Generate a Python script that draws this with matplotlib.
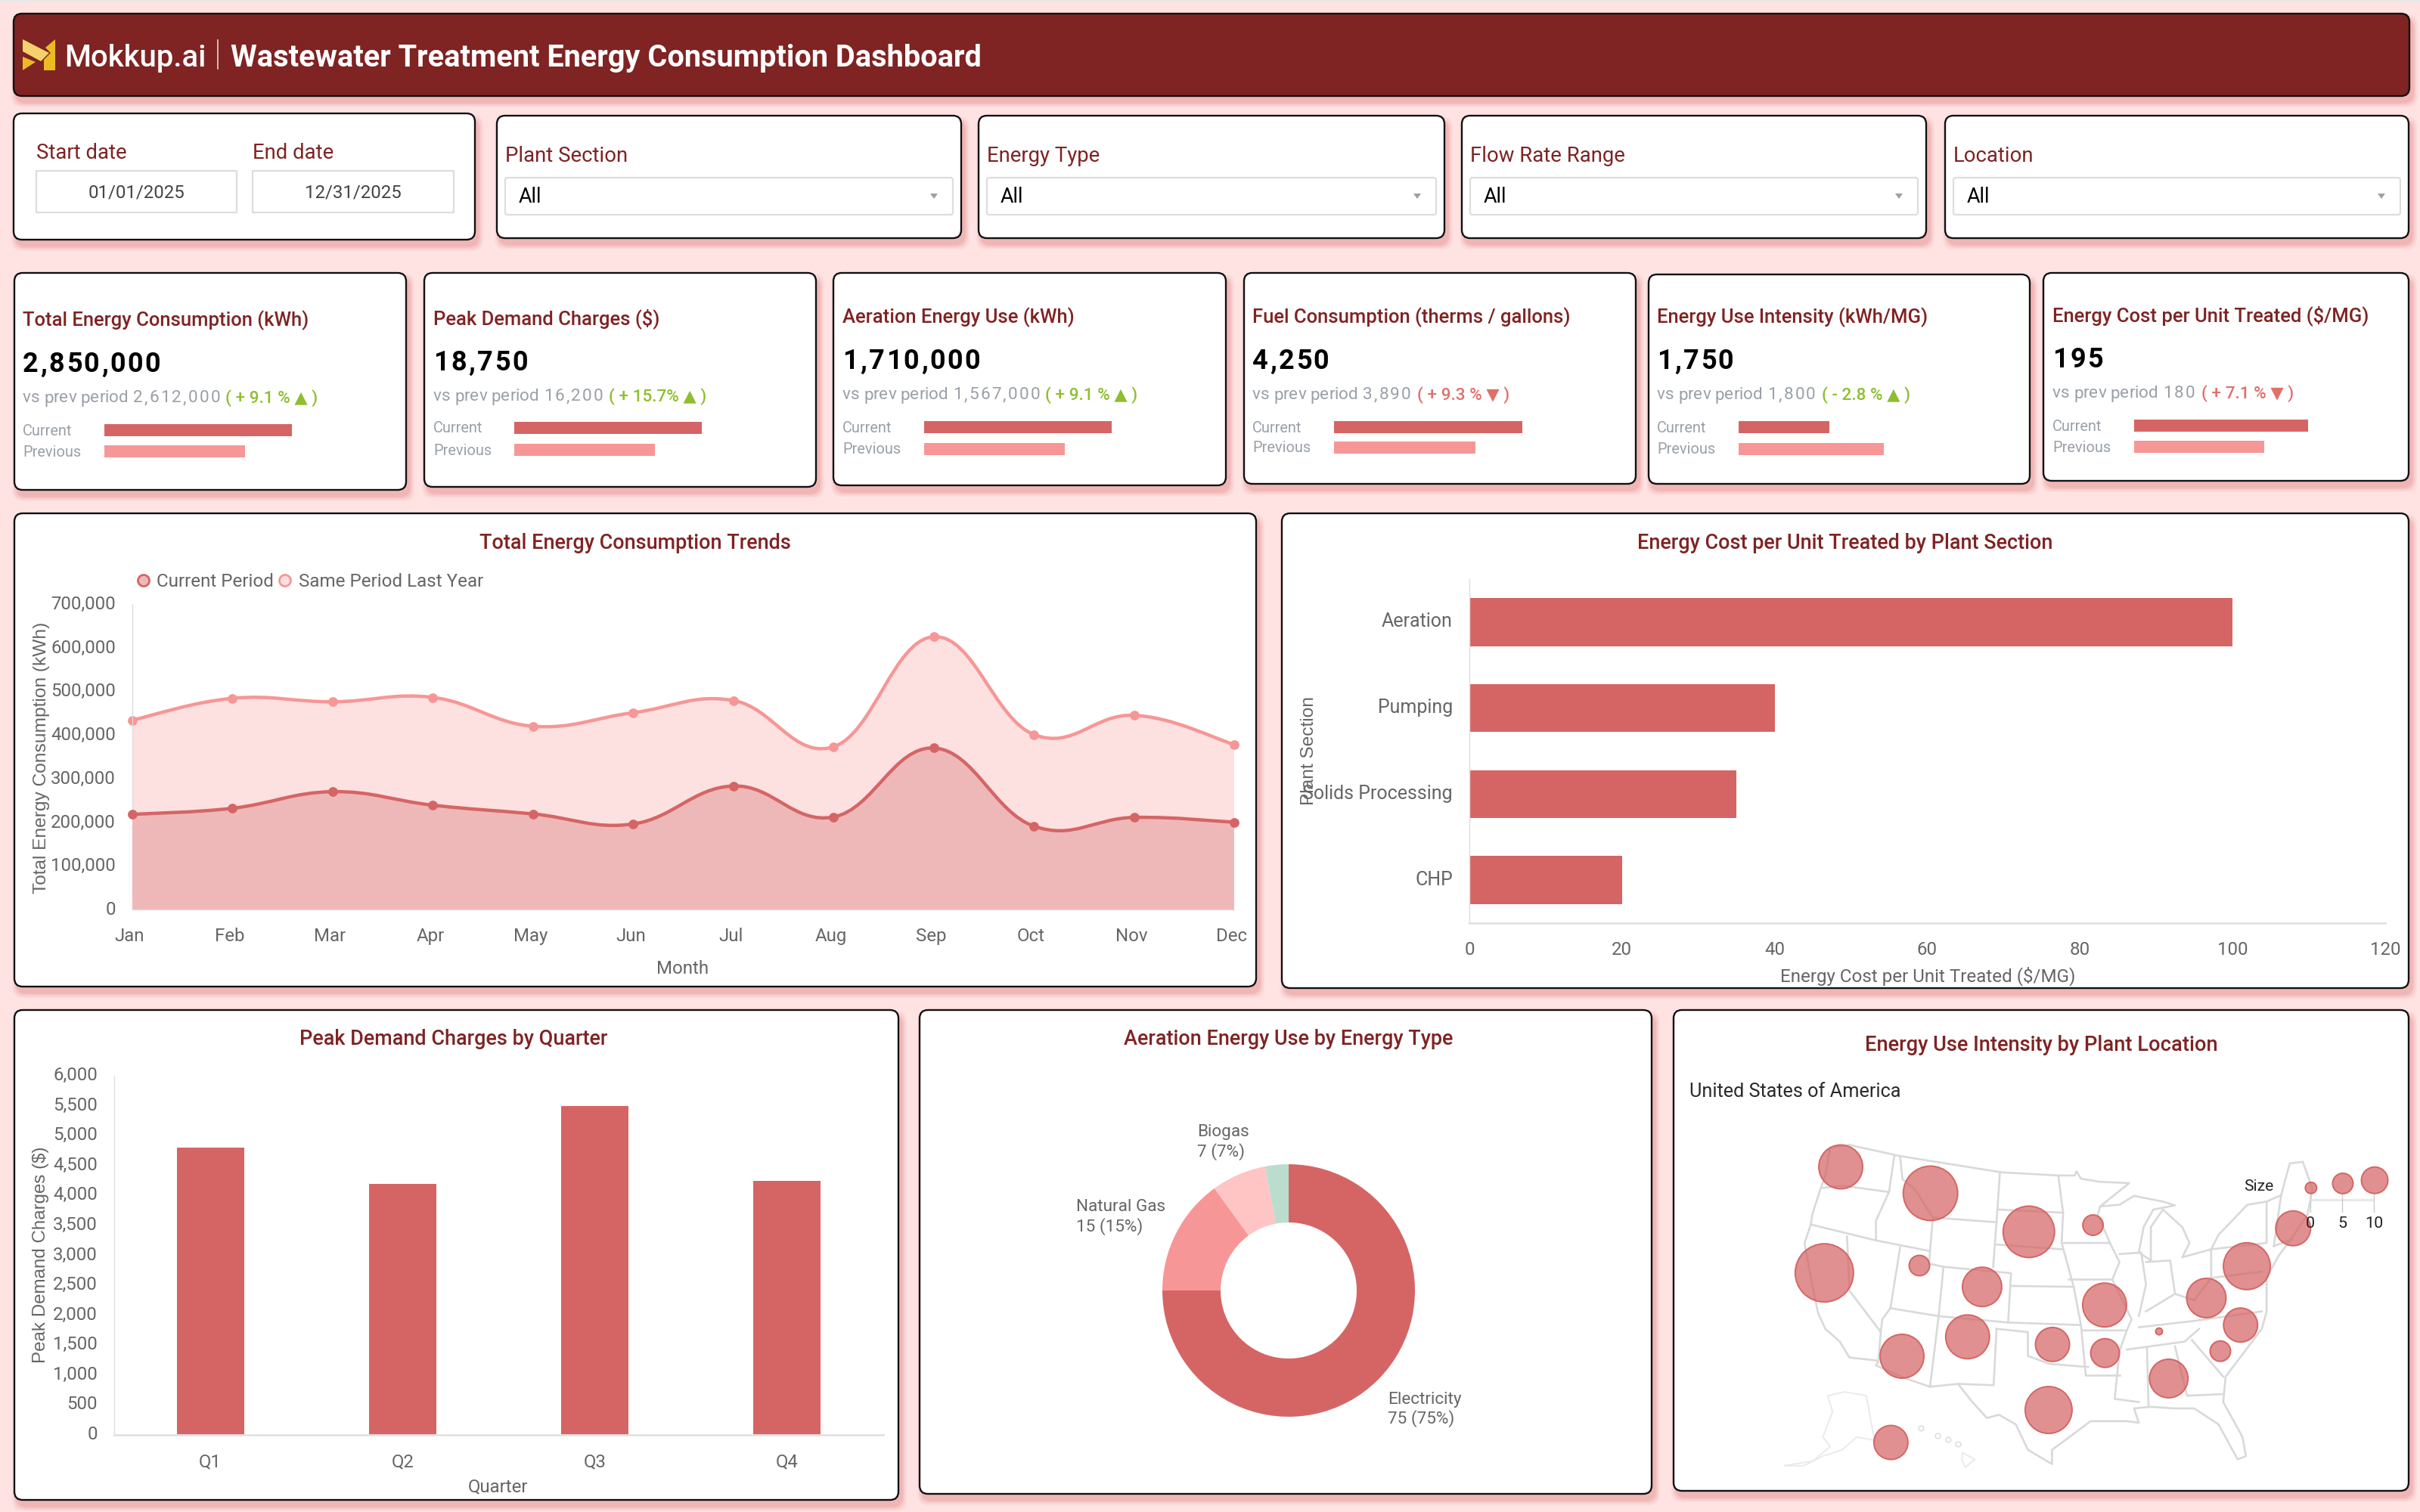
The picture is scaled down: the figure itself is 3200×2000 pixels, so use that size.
import matplotlib
matplotlib.use("Agg")
import matplotlib.pyplot as plt
import numpy as np
from matplotlib.patches import FancyBboxPatch, PathPatch, Polygon, Rectangle
from matplotlib.path import Path
from matplotlib.textpath import TextToPath
from matplotlib.font_manager import FontProperties
from matplotlib.transforms import ScaledTranslation

plt.rcParams['font.family'] = ['Roboto', 'DejaVu Sans']

W, H = 3200, 2000

# colours
BG = '#FFE3E3'
DARK_RED = '#7F2323'
BAR = '#D56565'
BAR_LIGHT = '#F79696'
GREY_TEXT = '#666666'
KPI_GREY = '#9AA0A8'
GREEN = '#8DBF2E'
RED = '#E0706A'

# filters
filter_labels = ['Plant Section', 'Energy Type', 'Flow Rate Range', 'Location']
start_date = '01/01/2025'
end_date = '12/31/2025'

# kpi cards
kpi_titles = ['Total Energy Consumption (kWh)', 'Peak Demand Charges ($)', 'Aeration Energy Use (kWh)',
              'Fuel Consumption (therms / gallons)', 'Energy Use Intensity (kWh/MG)',
              'Energy Cost per Unit Treated ($/MG)']
kpi_current = [2850000, 18750, 1710000, 4250, 1750, 195]
kpi_previous = [2612000, 16200, 1567000, 3890, 1800, 180]
kpi_delta = ['( + 9.1 % ▲ )', '( + 15.7% ▲ )', '( + 9.1 % ▲ )', '( + 9.3 % ▼ )', '( - 2.8 % ▲ )', '( + 7.1 % ▼ )']
kpi_good = [True, True, True, False, True, False]
# the small bars start from a raised baseline
kpi_axis_min = [1898000, 8550, 1138000, 2810, 1667, 135.5]

# trend chart
months = ['Jan', 'Feb', 'Mar', 'Apr', 'May', 'Jun', 'Jul', 'Aug', 'Sep', 'Oct', 'Nov', 'Dec']
current_period = [218000, 232000, 270000, 239000, 219000, 196000, 283000, 212000, 370000, 191000, 211000, 200000]
last_year = [434000, 484000, 476000, 486000, 420000, 451000, 479000, 373000, 625000, 401000, 445000, 378000]

# cost by section
sections = ['Aeration', 'Pumping', 'Solids Processing', 'CHP']
section_cost = [100, 40, 35, 20]

# peak demand by quarter
quarters = ['Q1', 'Q2', 'Q3', 'Q4']
quarter_charges = [4800, 4200, 5500, 4250]

# aeration energy mix
energy_types = ['Electricity', 'Natural Gas', 'Biogas', 'Other']
energy_values = [75, 15, 7, 3]
energy_colors = [BAR, BAR_LIGHT, '#FFC4C4', '#BBDDCE']

# plant bubbles, in map coordinates, with radius in pixels
plant_x = [367, 553, 333, 757, 890, 530, 660, 914, 1125, 1209, 1305, 1196, 494, 630, 806, 915, 1027, 1154, 1047, 798, 471]
plant_y = [531, 614, 864, 735, 714, 841, 908, 965, 943, 843, 724, 1028, 1126, 1065, 1089, 1116, 1048, 1110, 1196, 1295, 1397]
plant_radius = [29, 36, 38.5, 34, 13.5, 13.5, 26, 29, 26, 31, 23, 22.5, 29, 29, 22.5, 19, 4.5, 13.5, 25.5, 31, 22.5]
size_legend_values = ['0', '5', '10']
size_legend_x = [1342, 1408, 1474]
size_legend_y = [597, 583, 573]
size_legend_radius = [7.5, 13.5, 17.5]

# state borders, simplified, in map coordinates
map_lines = [
    # outer boundary of the lower 48
    [(385, 462), (490, 497), (700, 548), (818, 558), (852, 558), (856, 545), (865, 568), (905, 578), (965, 582),
     (905, 655), (945, 650), (975, 622), (1035, 640), (1060, 652), (1015, 665), (995, 720), (985, 800), (1010, 825),
     (1010, 720), (1035, 665), (1075, 720), (1090, 770), (1075, 815), (1135, 790), (1150, 745), (1210, 650),
     (1250, 640), (1280, 620), (1298, 520), (1325, 515), (1345, 600), (1335, 680), (1300, 760), (1275, 810),
     (1250, 880), (1250, 985), (1240, 1040), (1200, 1120), (1165, 1190), (1160, 1270), (1200, 1380), (1207, 1440),
     (1190, 1450), (1150, 1340), (1100, 1290), (1060, 1290), (1010, 1285), (975, 1290), (985, 1335), (960, 1330),
     (885, 1330), (850, 1370), (805, 1420), (805, 1465), (755, 1420), (730, 1340), (695, 1310), (670, 1320),
     (640, 1270), (610, 1213), (552, 1222), (500, 1195), (440, 1155), (445, 1140), (385, 1130), (365, 1080),
     (335, 1040), (320, 990), (305, 880), (292, 770), (305, 712), (308, 680), (325, 600), (335, 560), (345, 470), (385, 462)],
    [(330, 597), (370, 590), (467, 610)],
    [(305, 712), (440, 762), (550, 795)],
    [(478, 497), (467, 610), (440, 700), (440, 762)],
    [(490, 497), (495, 570), (520, 600), (558, 690), (550, 835)],
    [(558, 690), (690, 705)],
    [(697, 548), (690, 705), (683, 845)],
    [(695, 665), (828, 675)],
    [(818, 558), (828, 675), (825, 770), (850, 908), (865, 1028), (875, 1185)],
    [(690, 775), (825, 790)],
    [(580, 845), (720, 865), (714, 1020)],
    [(720, 905), (850, 908)],
    [(570, 1000), (714, 1020), (865, 1028)],
    [(490, 785), (470, 975), (570, 1000), (580, 845), (550, 835)],
    [(380, 750), (385, 920), (450, 1050), (445, 1140)],
    [(470, 975), (453, 1010), (450, 1050)],
    [(570, 1000), (552, 1222)],
    [(690, 1040), (684, 1217), (610, 1213)],
    [(690, 1040), (755, 1050), (755, 1125), (800, 1150), (880, 1160)],
    [(840, 885), (930, 885), (970, 1010), (960, 1045), (870, 1045)],
    [(830, 770), (925, 770), (945, 830), (930, 885)],
    [(925, 770), (900, 680), (905, 655)],
    [(945, 805), (990, 800), (1000, 900), (985, 1000)],
    [(1000, 830), (1050, 825), (1060, 930), (1000, 985)],
    [(1135, 790), (1135, 880), (1100, 950), (1060, 930)],
    [(985, 1035), (1100, 1015), (1240, 985)],
    [(960, 1105), (1080, 1080), (1110, 1040)],
    [(960, 1045), (945, 1110), (935, 1260), (985, 1270)],
    [(1002, 1100), (1005, 1280)],
    [(1060, 1095), (1085, 1250), (1160, 1245)],
    [(1095, 1075), (1160, 1190)],
    [(875, 1185), (945, 1185)],
    [(1135, 790), (1250, 770), (1250, 640)],
    [(1135, 880), (1240, 860)],
    [(1265, 780), (1280, 620)],
    [(1300, 760), (1265, 780)],
]
alaska_line = [(340, 1250), (375, 1238), (420, 1250), (437, 1390), (400, 1380), (370, 1420), (330, 1440), (290, 1470),
               (250, 1470), (310, 1455), (345, 1410), (330, 1380), (350, 1300), (340, 1250)]
hawaii_line = [(620, 1430), (645, 1450), (625, 1475), (618, 1450), (620, 1430)]
hawaii_small = [(533, 1352), (568, 1375), (590, 1388), (610, 1402)]


def px(size):
    # font size in points from a height in pixels
    return size * 0.36


def place_axes(x0, y0, x1, y1):
    ax = fig.add_axes([x0 / W, 1 - y1 / H, (x1 - x0) / W, (y1 - y0) / H])
    ax.patch.set_alpha(0)
    return ax


def card(x0, y0, x1, y1, face='white'):
    # soft pink shadow under the card
    for grow, alpha in zip([14, 10, 6, 3], [0.10, 0.14, 0.18, 0.22]):
        canvas.add_patch(FancyBboxPatch((x0 + 4 - grow / 2, y0 + 8 - grow / 2), x1 - x0 + grow, y1 - y0 + grow,
                                        boxstyle='round,pad=0,rounding_size=14', fc='#E58C8C', ec='none',
                                        alpha=alpha, zorder=1))
    canvas.add_patch(FancyBboxPatch((x0, y0), x1 - x0, y1 - y0, boxstyle='round,pad=0,rounding_size=11',
                                    fc=face, ec='#111111', lw=0.85, zorder=2))


def label(x, y, s, size=24, color=GREY_TEXT, ha='left', weight='normal', **kw):
    canvas.text(x, y + 2, s, fontsize=px(size), color=color, ha=ha, va='center', fontweight=weight, zorder=5, **kw)


def spaced_label(x, y, s, size, color, weight, gap):
    # letter spaced text, one glyph at a time
    fp = FontProperties(family='Roboto', weight=weight, size=px(size))
    t2p = TextToPath()
    for ch in s:
        label(x, y, ch, size=size, color=color, weight=weight)
        w, _, _ = t2p.get_text_width_height_descent(ch, fp, False)
        x += w * 200 / 72 + gap


def smooth_path(xs, ys, t=0.2):
    # cardinal spline through the points as cubic bezier segments
    n = len(xs)
    verts = [(xs[0], ys[0])]
    codes = [Path.MOVETO]
    for i in range(n - 1):
        a = max(i - 1, 0)
        b = min(i + 2, n - 1)
        c1 = (xs[i] + (xs[i + 1] - xs[a]) * t, ys[i] + (ys[i + 1] - ys[a]) * t)
        c2 = (xs[i + 1] - (xs[b] - xs[i]) * t, ys[i + 1] - (ys[b] - ys[i]) * t)
        verts += [c1, c2, (xs[i + 1], ys[i + 1])]
        codes += [Path.CURVE4] * 3
    return verts, codes


def style_axes(ax):
    for s in ['top', 'right']:
        ax.spines[s].set_visible(False)
    ax.tick_params(length=0, labelsize=px(24), labelcolor=GREY_TEXT)


def nudge(tick_labels, dx, dy):
    # shift tick labels by a few pixels (dy upwards)
    for t in tick_labels:
        t.set_transform(t.get_transform() + ScaledTranslation(dx / 200, dy / 200, fig.dpi_scale_trans))


fig = plt.figure(figsize=(W / 200, H / 200), dpi=200, facecolor=BG)
canvas = fig.add_axes([0, 0, 1, 1])
canvas.set_xlim(0, W)
canvas.set_ylim(H, 0)
canvas.axis('off')
canvas.add_patch(Rectangle((0, 0), W, 3, fc='#E8E8E8', ec='none'))

# header
card(18, 18, 3186, 127, face=DARK_RED)
canvas.add_patch(Polygon([(30, 52), (65, 70), (54, 81), (30, 68)], fc='#F3D36B', ec='none', zorder=4))
canvas.add_patch(Polygon([(30, 75), (47, 82), (30, 93)], fc='#EBBB22', ec='none', zorder=4))
canvas.add_patch(Polygon([(73, 52), (73, 93), (58, 93), (58, 79), (67, 70), (60, 63)], fc='#EBBB22', ec='none', zorder=4))
label(85, 75, 'Mokkup.ai', size=40, color='white', weight='medium')
canvas.plot([288, 288], [53, 91], color='#E8D0D0', lw=0.6, zorder=5)
label(305, 75, 'Wastewater Treatment Energy Consumption Dashboard', size=39.8, color='white', weight='bold')

# date filter
card(18, 150, 628, 317)
for x0, x1, head, val in [(48, 313, 'Start date', start_date), (334, 600, 'End date', end_date)]:
    label(x0, 201, head, size=27.5, color=DARK_RED)
    canvas.add_patch(Rectangle((x0, 226), x1 - x0, 55, fc='white', ec='#DDDDDD', lw=0.8, zorder=4))
    label((x0 + x1) / 2, 253, val, size=24, color='#444444', ha='center')

# dropdown filters
filter_x = [(657, 1271), (1294, 1910), (1933, 2547), (2572, 3185)]
for (x0, x1), name in zip(filter_x, filter_labels):
    card(x0, 153, x1, 315)
    label(x0 + 11, 205, name, size=27.5, color=DARK_RED)
    canvas.add_patch(FancyBboxPatch((x0 + 11, 235), x1 - x0 - 22, 49, boxstyle='round,pad=0,rounding_size=3',
                                    fc='white', ec='#DDDDDD', lw=0.8, zorder=4))
    label(x0 + 29, 258, 'All', size=27, color='black')
    canvas.add_patch(Polygon([(x1 - 41, 256), (x1 - 31, 256), (x1 - 36, 263)], fc='#9AA0A8', ec='none', zorder=5))

# kpi cards
card_box = [(19, 361, 537, 648), (561, 361, 1079, 644), (1102, 361, 1621, 642),
            (1645, 361, 2163, 640), (2180, 363, 2684, 640), (2702, 361, 3185, 636)]
text_x = [30, 573, 1114, 1656, 2191, 2714]
title_y = [422, 420, 418, 418, 418, 416]
bar_left = [138, 680, 1222, 1764, 2299, 2822]
bar_width = [248, 248, 248, 249, 192, 230]
bar_top = [561, 558, 557, 557, 557, 555]
prev_top = [589, 587, 586, 584, 586, 583]
delta_x = [298, 805, 1382, 1874, 2409, 2911]

for i, box in enumerate(card_box):
    card(*box)
    x = text_x[i]
    label(x, title_y[i], kpi_titles[i], size=25.6, color=DARK_RED, weight='medium')
    spaced_label(x, title_y[i] + 58, f'{kpi_current[i]:,}', 36, 'black', 'bold', 2.5)
    spaced_label(x, title_y[i] + 103, 'vs prev period', 22.5, KPI_GREY, 'normal', 0)
    spaced_label(x + 146, title_y[i] + 103, f'{kpi_previous[i]:,}', 22.5, KPI_GREY, 'normal', 2.2)
    label(delta_x[i], title_y[i] + 103, kpi_delta[i], size=22.5, color=GREEN if kpi_good[i] else RED, weight='medium')
    label(x, bar_top[i] + 7, 'Current', size=20, color=KPI_GREY)
    label(x, prev_top[i] + 7, 'Previous', size=20, color=KPI_GREY)
    top = max(kpi_current[i], kpi_previous[i])
    # current and previous bars share one small axis per card
    bx = place_axes(bar_left[i], bar_top[i], bar_left[i] + bar_width[i], prev_top[i] + 16)
    bx.set_xlim(kpi_axis_min[i], top)
    bx.set_ylim(prev_top[i] + 16 - bar_top[i], 0)
    bx.barh([8, prev_top[i] + 8 - bar_top[i]], [kpi_current[i] - kpi_axis_min[i], kpi_previous[i] - kpi_axis_min[i]],
            left=kpi_axis_min[i], height=16, color=[BAR, BAR_LIGHT])
    bx.axis('off')

# trend chart
card(19, 679, 1661, 1305)
label(840, 716, 'Total Energy Consumption Trends', size=27, color=DARK_RED, ha='center', weight='medium')
canvas.scatter([190, 377], [768, 768], s=[(px(15)) ** 2] * 2, fc=['#EFB8B8', '#FDE0E0'], ec=[BAR, BAR_LIGHT], lw=1.0, zorder=5)
label(207, 767, 'Current Period', size=24.2)
label(395, 767, 'Same Period Last Year', size=24.2)
label(55, 1000, 'Total Energy Consumption (kWh)', size=24.5, rotation=90, ha='center', family='Liberation Sans')
label(903, 1279, 'Month', size=24, ha='center')

ax = place_axes(175, 799, 1632, 1203)
x_pos = np.arange(len(months))
for series, line_c, fill_c, z in [(last_year, BAR_LIGHT, '#FDE0E0', 2), (current_period, BAR, '#EFB8B8', 3)]:
    verts, codes = smooth_path(x_pos, series)
    ax.add_patch(PathPatch(Path(verts + [(11, 0), (0, 0), verts[0]], codes + [Path.LINETO, Path.LINETO, Path.CLOSEPOLY]),
                           fc=fill_c, ec='none', zorder=z))
    ax.add_patch(PathPatch(Path(verts, codes), fc='none', ec=line_c, lw=1.6, zorder=z + 0.2))
    ax.plot(x_pos, series, 'o', color=line_c, ms=4.6, mew=0, zorder=z + 0.4, clip_on=False)
ax.set_xlim(0, 11)
ax.set_ylim(0, 700000)
ax.set_xticks(x_pos, months)
ax.set_yticks(np.arange(0, 700001, 100000))
ax.yaxis.set_major_formatter(lambda v, p: f'{int(v):,}')
style_axes(ax)
ax.tick_params(axis='x', pad=8.6)
ax.tick_params(axis='y', pad=8)
nudge(ax.get_xticklabels(), -3.5, 0)
nudge(ax.get_yticklabels(), 0, 2)
ax.spines['left'].set_color('#DDDDDD')
ax.spines['bottom'].set_color('#DDDDDD')
ax.spines['left'].set_linewidth(0.5)
ax.spines['bottom'].set_linewidth(0.5)

# cost by plant section
card(1695, 679, 3185, 1307)
label(2440, 716, 'Energy Cost per Unit Treated by Plant Section', size=27, color=DARK_RED, ha='center', weight='medium')
label(2549, 1289, 'Energy Cost per Unit Treated ($/MG)', size=24.2, ha='center')
label(1731, 991, 'Plant Section', size=24.5, rotation=90, ha='center', family='Liberation Sans')
ax = place_axes(1943, 766, 3154, 1221)
ax.barh(np.arange(len(sections)), section_cost, height=0.56, color=BAR)
ax.set_xlim(0, 120)
ax.set_ylim(3.5, -0.5)
ax.set_yticks(np.arange(len(sections)), sections)
ax.set_xticks(np.arange(0, 121, 20))
style_axes(ax)
ax.tick_params(axis='y', labelsize=px(25))
ax.tick_params(axis='x', pad=8.6)
ax.tick_params(axis='y', pad=8)
nudge(ax.get_yticklabels(), 0, 3)
ax.spines['left'].set_color('#DDDDDD')
ax.spines['left'].set_linewidth(0.5)
ax.spines['bottom'].set_color('#E2E2E2')
ax.spines['bottom'].set_linewidth(1.0)

# peak demand by quarter
card(19, 1336, 1188, 1984)
label(600, 1373, 'Peak Demand Charges by Quarter', size=27, color=DARK_RED, ha='center', weight='medium')
label(659, 1965, 'Quarter', size=24, ha='center')
label(54, 1658, 'Peak Demand Charges ($)', size=24.2, rotation=90, ha='center', family='Liberation Sans')
ax = place_axes(151, 1423, 1168, 1898)
ax.bar(np.arange(len(quarters)), quarter_charges, width=0.35, color=BAR)
ax.set_xlim(-0.5, 3.5)
ax.set_ylim(0, 6000)
ax.set_xticks(np.arange(len(quarters)), quarters)
ax.set_yticks(np.arange(0, 6001, 500))
ax.yaxis.set_major_formatter(lambda v, p: f'{int(v):,}')
style_axes(ax)
ax.tick_params(axis='x', pad=8.6)
ax.tick_params(axis='y', pad=8)
nudge(ax.get_yticklabels(), 0, 3)
ax.spines['left'].set_color('#DDDDDD')
ax.spines['left'].set_linewidth(0.5)
ax.spines['bottom'].set_color('#E2E2E2')
ax.spines['bottom'].set_linewidth(1.0)

# energy type donut
card(1216, 1336, 2184, 1976)
label(1704, 1373, 'Aeration Energy Use by Energy Type', size=27, color=DARK_RED, ha='center', weight='medium')
ax = place_axes(1704 - 167, 1707 - 167, 1704 + 167, 1707 + 167)
ax.pie(energy_values, colors=energy_colors, startangle=90, counterclock=False, radius=1.0,
       wedgeprops=dict(width=1 - 90 / 167))
ax.set_xlim(-1, 1)
ax.set_ylim(-1, 1)
donut_label_x = [1835, 1423, 1583]
donut_label_y = [1849, 1595, 1496]
for i in range(3):
    label(donut_label_x[i], donut_label_y[i], energy_types[i], size=22.5)
    label(donut_label_x[i], donut_label_y[i] + 26, f'{energy_values[i]} ({energy_values[i]}%)', size=22.5)

# bubble map
card(2213, 1336, 3185, 1972)
label(2699, 1380, 'Energy Use Intensity by Plant Location', size=27.3, color=DARK_RED, ha='center', weight='medium')
label(2234, 1442, 'United States of America', size=25.3, color='#2A2A2A')
ax = place_axes(2200, 1320, 3200, 1980)
ax.set_xlim(0, 1568)
ax.set_ylim(1568, 0)
ax.axis('off')
for line in map_lines:
    lx, ly = zip(*line)
    ax.plot(lx, ly, color='#D9D9D9', lw=0.95, zorder=1)
for line, a in [(alaska_line, 0.55), (hawaii_line, 0.55)]:
    lx, ly = zip(*line)
    ax.plot(lx, ly, color='#D9D9D9', lw=0.7, alpha=a, zorder=1)
hx, hy = zip(*hawaii_small)
ax.plot(hx, hy, 'o', mfc='none', mec='#D9D9D9', ms=2.4, mew=0.5, zorder=1)

ax.scatter(plant_x, plant_y, s=[(2 * r * 0.36) ** 2 for r in plant_radius], fc=BAR, alpha=0.72, ec='none', zorder=3)
ax.scatter(plant_x, plant_y, s=[(2 * r * 0.36) ** 2 for r in plant_radius], fc='none', ec=BAR, lw=0.7, zorder=3)

# size legend
ax.plot([size_legend_x[0] - 1, size_legend_x[-1] - 5], [635, 635], color='#E6E9EC', lw=1.2, zorder=4)
for i, val in enumerate(size_legend_values):
    ax.plot([size_legend_x[i] - 1, size_legend_x[i] - 1], [617, 672], color='#CCCCCC', lw=0.5, zorder=4)
    ax.text(size_legend_x[i] - 1, 708, val, fontsize=px(21.5), color='#222222', ha='center', va='center', zorder=6)
ax.scatter(size_legend_x, size_legend_y, s=[(2 * r * 0.36) ** 2 for r in size_legend_radius], fc=BAR, alpha=0.72, ec='none', zorder=5)
ax.scatter(size_legend_x, size_legend_y, s=[(2 * r * 0.36) ** 2 for r in size_legend_radius], fc='none', ec=BAR, lw=0.7, zorder=5)
ax.text(1234, 593, 'Size', fontsize=px(21), color='#222222', ha='center', va='center', zorder=6)

fig.savefig('out.png', dpi=200, facecolor=BG)
